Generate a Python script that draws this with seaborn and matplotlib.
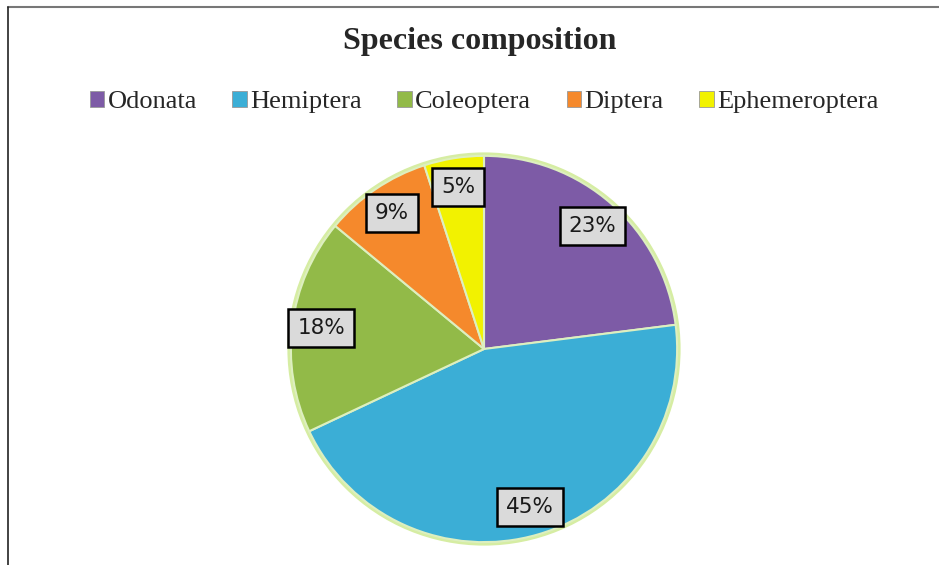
import matplotlib
matplotlib.use("Agg")
import matplotlib.pyplot as plt
import seaborn as sns
from matplotlib.patches import Patch, Circle
from matplotlib.lines import Line2D

categories = ["Odonata", "Hemiptera", "Coleoptera", "Diptera", "Ephemeroptera"]
values = [23, 45, 18, 9, 5]
colors = ["#7D5BA6", "#3BAED6", "#92BA48", "#F5892C", "#F2F200"]
title = "Species composition"

sns.set_theme(style="white")
plt.rcParams['font.family'] = ['DejaVu Sans']

W, H = 939, 565
fig = plt.figure(figsize=(W / 100, H / 100), dpi=100)
fig.patch.set_facecolor("white")

cx, cy, r = 484, 349, 197
ax = fig.add_axes([(cx - r) / W, (H - cy - r) / H, 2 * r / W, 2 * r / H])
ax.set_axis_off()

glow = Circle((0, 0), 1.0, facecolor="none", edgecolor="#D6EDA3", linewidth=5, zorder=0)
ax.add_patch(glow)

wedges, texts, autotexts = ax.pie(
    values, colors=colors, startangle=90, counterclock=False,
    autopct="%1.0f%%", pctdistance=0.85, radius=1.0,
    wedgeprops=dict(edgecolor="#DDEFC0", linewidth=1.5),
    textprops=dict(fontsize=15.5, color="#1a1a1a", family="DejaVu Sans"),
)
for t in autotexts:
    t.set_bbox(dict(boxstyle="square,pad=0.42", facecolor="#DADADA", edgecolor="black", linewidth=1.8))
ax.set_xlim(-1.02, 1.02)
ax.set_ylim(-1.02, 1.02)
ax.set_aspect("equal")

fig.text(480 / W, 1 - 42 / H, title, ha="center", va="center",
         fontsize=23, fontweight="bold", family="Liberation Serif")

handles = [Patch(facecolor=c, edgecolor="#999999", linewidth=0.6) for c in colors]
leg = fig.legend(handles, categories, loc="center", bbox_to_anchor=(484 / W, 1 - 102 / H),
                 ncol=5, frameon=False, handlelength=0.55, handleheight=0.55,
                 handletextpad=0.12, columnspacing=1.35,
                 prop=dict(family="Liberation Serif", size=19))

fig.add_artist(Line2D([7.5 / W, 1], [1 - 6.5 / H, 1 - 6.5 / H], color="#777777", linewidth=1.5))
fig.add_artist(Line2D([7.5 / W, 7.5 / W], [0, 1 - 6.5 / H], color="#222222", linewidth=1.2))

fig.savefig("out.png", dpi=100, facecolor="white")
